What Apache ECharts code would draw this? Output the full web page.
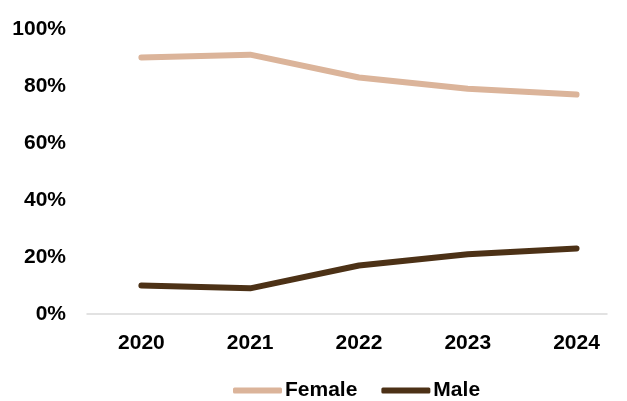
<!DOCTYPE html>
<html>
<head>
<meta charset="utf-8">
<script src="https://cdn.jsdelivr.net/npm/echarts@6/dist/echarts.min.js"></script>
<style>html,body{margin:0;padding:0;background:#fff;}#c{width:627px;height:401px;}</style>
</head>
<body>
<div id="c"></div>
<script>
var years = [2020, 2021, 2022, 2023, 2024];
var female = [90, 91, 83, 79, 77];
var male = [10, 9, 17, 21, 23];
var yTicks = [0, 20, 40, 60, 80, 100];

function pairs(vals){ return years.map(function(y,i){ return [y, vals[i]]; }); }

var chart = echarts.init(document.getElementById('c'), null, {renderer:'canvas'});
var font = 'Liberation Sans, Arial, sans-serif';
chart.setOption({
  animation: false,
  grid: {left: 87, right: 20, top: 29, bottom: 87, containLabel: false},
  xAxis: {
    type: 'value', min: 2019.5, max: 2024.28,
    axisLine: {show: true, lineStyle: {color: '#d9d9d9', width: 1.5}},
    axisTick: {show: false},
    splitLine: {show: false},
    axisLabel: {customValues: years, formatter: function(v){return String(v);}, color: '#000', fontFamily: font, fontWeight: 'bold', fontSize: 21, margin: 19}
  },
  yAxis: {
    type: 'value', min: 0, max: 100, interval: 20,
    axisLine: {show: false}, axisTick: {show: false}, splitLine: {show: false},
    axisLabel: {formatter: '{value}%', color: '#000', fontFamily: font, fontWeight: 'bold', fontSize: 21, margin: 21, padding: [4,0,0,0]}
  },
  legend: {
    top: 380, left: 233, padding: 0, itemWidth: 49, itemHeight: 6, itemGap: 24,
    icon: 'roundRect',
    textStyle: {color: '#000', fontFamily: font, fontWeight: 'bold', fontSize: 21, padding: [0,0,0,-2]},
    data: ['Female', 'Male']
  },
  series: [
    {name: 'Female', type: 'line', data: pairs(female), symbol: 'none', lineStyle: {width: 6, color: '#DBB49A', cap: 'round', join: 'round'}, itemStyle: {color: '#DBB49A'}},
    {name: 'Male', type: 'line', data: pairs(male), symbol: 'none', lineStyle: {width: 6, color: '#4C3116', cap: 'round', join: 'round'}, itemStyle: {color: '#4C3116'}}
  ]
});
</script>
</body>
</html>
